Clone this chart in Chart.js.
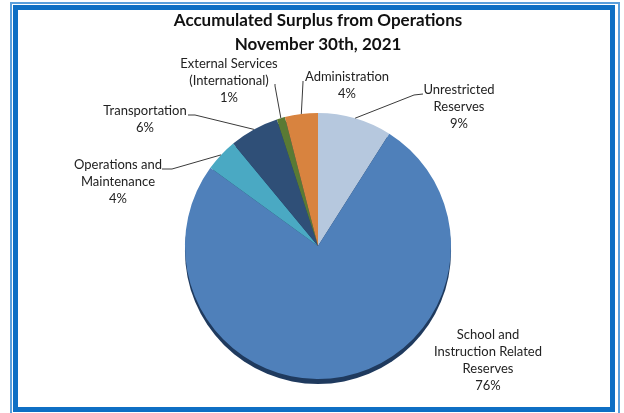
<!DOCTYPE html>
<html>
<head>
<meta charset="utf-8">
<script src="https://cdn.jsdelivr.net/npm/chart.js@4.4.0/dist/chart.umd.min.js"></script>
<style>
  html, body { margin: 0; padding: 0; background: #fff; }
  #wrap { position: relative; width: 624px; height: 413px; overflow: hidden; }
  .frame-outer { position: absolute; left: 10px; top: 2px; width: 606px; height: 420px; border: 2px solid #5a9fdc; }
  .frame-inner { position: absolute; left: 13px; top: 5px; width: 592px; height: 397px; border: 5px solid #0e6fc4; }
  #surplusChart { position: absolute; left: 0; top: 0; }
</style>
</head>
<body>
<div id="wrap">
  <div class="frame-outer"></div>
  <div class="frame-inner"></div>
  <canvas id="surplusChart" width="624" height="413"></canvas>
</div>
<script>
const categories = [
    ['Unrestricted', 'Reserves'],
    ['School and', 'Instruction Related', 'Reserves'],
    ['Operations and', 'Maintenance'],
    ['Transportation'],
    ['External Services', '(International)'],
    ['Administration']
];
const percentages = [9, 76, 4, 6, 1, 4];
const sliceColors = ['#b6c8de', '#4f80ba', '#4aa9c3', '#2f4f77', '#5a7a34', '#d8833f'];

// where each data label sits (centre of first text line) and the elbow of its leader line
const labelSpots = [
    { x: 459, y: 90, elbow: [[423, 94], [414, 95]] },
    { x: 488, y: 335, elbow: null },
    { x: 118, y: 165, elbow: [[162, 169], [172, 169]] },
    { x: 145, y: 111, elbow: [[188, 115], [195, 115]] },
    { x: 229, y: 64, elbow: [[275, 84], [275, 86]] },
    { x: 347, y: 77, elbow: [[303, 81], [303, 82]] }
];

// dark rim under the pie to give it a bit of depth
const pieDepth = {
    id: 'pieDepth',
    beforeDatasetsDraw(chart) {
        const arc = chart.getDatasetMeta(0).data[0];
        if (!arc) return;
        const c = chart.ctx;
        c.save();
        c.fillStyle = '#1f3a5e';
        c.beginPath();
        c.arc(arc.x, arc.y + 5, arc.outerRadius, 0, Math.PI * 2);
        c.fill();
        c.restore();
    }
};

const sliceLabels = {
    id: 'sliceLabels',
    afterDatasetsDraw(chart) {
        const c = chart.ctx;
        const meta = chart.getDatasetMeta(0);
        c.save();
        c.font = '13px Lato, "Open Sans", sans-serif';
        c.fillStyle = '#222';
        c.textAlign = 'center';
        c.textBaseline = 'middle';
        c.strokeStyle = '#3a3a3a';
        c.lineWidth = 1;
        meta.data.forEach((arc, i) => {
            const spot = labelSpots[i];
            const lines = categories[i].concat([percentages[i] + '%']);
            lines.forEach((t, k) => c.fillText(t, spot.x, spot.y + k * 17));
            if (spot.elbow) {
                const mid = (arc.startAngle + arc.endAngle) / 2;
                const px = arc.x + Math.cos(mid) * arc.outerRadius;
                const py = arc.y + Math.sin(mid) * arc.outerRadius;
                c.beginPath();
                c.moveTo(spot.elbow[0][0], spot.elbow[0][1]);
                c.lineTo(spot.elbow[1][0], spot.elbow[1][1]);
                c.lineTo(px, py);
                c.stroke();
            }
        });
        c.restore();
    }
};

const ctx = document.getElementById('surplusChart').getContext('2d');
const surplusChart = new Chart(ctx, {
    type: 'pie',
    data: {
        labels: categories,
        datasets: [{
            data: percentages,
            backgroundColor: sliceColors,
            borderWidth: 0
        }]
    },
    options: {
        responsive: false,
        animation: false,
        devicePixelRatio: 1,
        layout: {
            padding: { top: 0, bottom: 34, left: 40, right: 28 }
        },
        plugins: {
            legend: { display: false },
            tooltip: { enabled: false },
            title: {
                display: true,
                text: ['Accumulated Surplus from Operations', 'November 30th, 2021'],
                color: '#111',
                font: { family: 'Lato, "Open Sans", sans-serif', size: 17, weight: 'bold', lineHeight: 1.38 },
                padding: { top: 9, bottom: 57 }
            }
        }
    },
    plugins: [pieDepth, sliceLabels]
});
</script>
</body>
</html>
